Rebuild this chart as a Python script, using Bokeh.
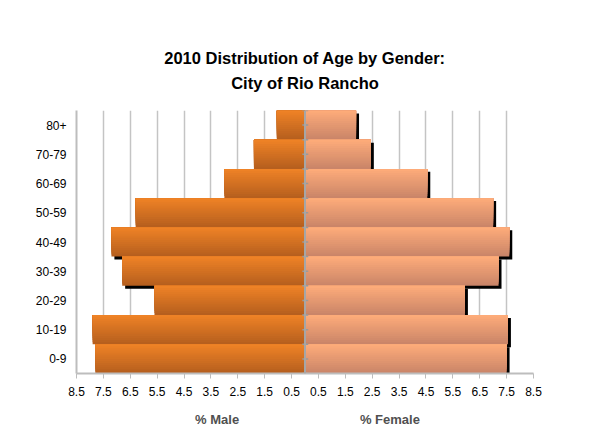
from bokeh.plotting import figure
from bokeh.models import (Range1d, FixedTicker, CustomJSTickFormatter, LinearAxis, Span)
from bokeh.embed import file_html
from bokeh.resources import INLINE

# ---- data ----
age_groups = ["0-9", "10-19", "20-29", "30-39", "40-49", "50-59", "60-69", "70-79", "80+"]
male_pct = [7.8, 7.9, 5.6, 6.8, 7.2, 6.3, 3.0, 1.9, 1.05]
female_pct = [7.5, 7.55, 5.95, 7.2, 7.6, 7.0, 4.55, 2.45, 1.9]
x_ticks = [-8.5, -7.5, -6.5, -5.5, -4.5, -3.5, -2.5, -1.5, -0.5,
           0.5, 1.5, 2.5, 3.5, 4.5, 5.5, 6.5, 7.5, 8.5]
side_titles = ["% Male", "% Female"]
side_title_pos = [-3.27, 3.16]
title_lines = ["2010 Distribution of Age by Gender:", "City of Rio Rancho"]

FONT = "Liberation Sans"

p = figure(frame_width=457, frame_height=263,
           x_range=Range1d(-8.5, 8.5), y_range=Range1d(0, 9),
           output_backend="svg", toolbar_location=None,
           min_border_left=76, min_border_right=60,
           min_border_top=110, min_border_bottom=58,
           background_fill_color="white", border_fill_color="white")
p.outline_line_color = None

n = len(age_groups)
idx = list(range(n))

# ---- shadows ----
dx, dy = 0.11, 0.10
p.quad(left=[-m + dx for m in male_pct], right=[dx] * n,
       bottom=[i - dy for i in idx], top=[i + 1 - dy for i in idx],
       fill_color="black", line_color=None)
p.quad(left=[dx] * n, right=[f + dx for f in female_pct],
       bottom=[i - dy for i in idx], top=[i + 1 - dy for i in idx],
       fill_color="black", line_color=None)

# ---- gradient bars (overlapping horizontal strips, bottom dark -> top light) ----
def mix(c1, c2, t):
    return "#%02x%02x%02x" % tuple(int(round(a + (b - a) * t)) for a, b in zip(c1, c2))

male_top, male_bot = (240, 131, 38), (180, 94, 30)
fem_top, fem_bot = (255, 172, 122), (200, 132, 104)
NS = 14
for side, vals, ctop, cbot in (("m", male_pct, male_top, male_bot),
                               ("f", female_pct, fem_top, fem_bot)):
    L, R, B, T, C = [], [], [], [], []
    for k in range(NS):
        t = (k + 0.5) / NS
        for i, v in zip(idx, vals):
            B.append(i + k / NS)
            T.append(i + 1)
            if side == "m":
                L.append(-v); R.append(0)
            else:
                L.append(0); R.append(v)
            C.append(mix(cbot, ctop, t))
    p.quad(left=L, right=R, bottom=B, top=T, fill_color=C, line_color=None)

# ---- centre axis ----
p.add_layout(Span(location=0, dimension="height", line_color="#a6a6a6", line_width=2))
ys = [i * 0.5 for i in range(2 * n + 1)]
p.segment(x0=[-0.1] * len(ys), x1=[0.12] * len(ys), y0=ys, y1=ys,
          line_color="#9a9a9a", line_width=1.5)

# ---- axes ----
xa = p.xaxis[0]
xa.ticker = FixedTicker(ticks=x_ticks)
xa.formatter = CustomJSTickFormatter(code="return Math.abs(tick).toFixed(1);")
xa.axis_line_color = "#bdbdbd"
xa.axis_line_width = 2
xa.major_tick_line_color = "#bdbdbd"
xa.major_tick_out = 5
xa.major_tick_in = 0
xa.minor_tick_line_color = None
xa.major_label_standoff = 8
xa.major_label_text_font = FONT
xa.major_label_text_font_size = "12px"
xa.major_label_text_color = "black"

ya = p.yaxis[0]
ya.ticker = FixedTicker(ticks=[i + 0.5 for i in idx])
ya.formatter = CustomJSTickFormatter(args=dict(labels=age_groups),
                                     code="return labels[Math.floor(tick)];")
ya.axis_line_color = "#bdbdbd"
ya.axis_line_width = 2
ya.major_tick_line_color = None
ya.minor_tick_line_color = None
ya.major_tick_out = 0
ya.major_tick_in = 0
ya.major_label_standoff = 10
ya.major_label_text_font = FONT
ya.major_label_text_font_size = "12px"
ya.major_label_text_color = "black"

p.xgrid.ticker = FixedTicker(ticks=x_ticks)
p.xgrid.grid_line_color = "#c4c4c4"
p.xgrid.grid_line_width = 1.5
p.ygrid.visible = False

side_axis = LinearAxis(ticker=FixedTicker(ticks=side_title_pos),
                       formatter=CustomJSTickFormatter(args=dict(names=side_titles),
                                                       code="return tick < 0 ? names[0] : names[1];"))
side_axis.axis_line_color = None
side_axis.major_tick_line_color = None
side_axis.minor_tick_line_color = None
side_axis.major_tick_out = 0
side_axis.major_tick_in = 0
side_axis.major_label_standoff = 13
side_axis.major_label_text_font = FONT
side_axis.major_label_text_font_size = "13px"
side_axis.major_label_text_font_style = "bold"
side_axis.major_label_text_color = "#505050"
p.add_layout(side_axis, "below")

# ---- title: second line as a label-only axis above the frame ----
sub_axis = LinearAxis(ticker=FixedTicker(ticks=[0]),
                      formatter=CustomJSTickFormatter(args=dict(t=title_lines[1]),
                                                      code="return t;"))
sub_axis.axis_line_color = None
sub_axis.major_tick_line_color = None
sub_axis.minor_tick_line_color = None
sub_axis.major_tick_out = 0
sub_axis.major_tick_in = 0
sub_axis.major_label_standoff = 19
sub_axis.major_label_text_font = FONT
sub_axis.major_label_text_font_size = "16.5px"
sub_axis.major_label_text_font_style = "bold"
sub_axis.major_label_text_color = "black"
p.add_layout(sub_axis, "above")

p.title.text = title_lines[0]
p.title.align = "center"
p.title.text_font = FONT
p.title.text_font_size = "16.5px"
p.title.text_font_style = "bold"
p.title.text_color = "black"
p.title.standoff = 8

open("out.html", "w").write(file_html(p, INLINE))
